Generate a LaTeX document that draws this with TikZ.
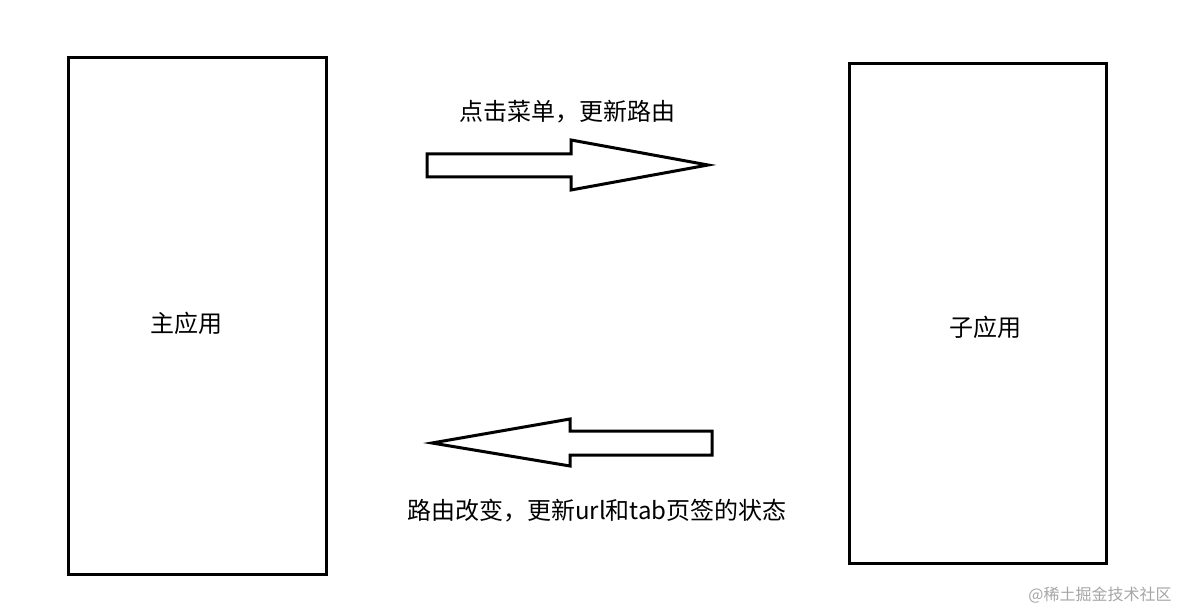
\documentclass[tikz,border=0pt]{standalone}
\usepackage{fontspec}
\setmainfont{Noto Sans CJK SC}
\begin{document}
\begin{tikzpicture}[x=1pt,y=-1pt,
  box/.style={draw,line width=3pt},
  arr/.style={draw,line width=3pt,line join=miter},
  lbl/.style={font=\fontsize{24}{28}\selectfont,inner sep=0}]
\useasboundingbox[fill=white] (0,0) rectangle (1189,612);
\node[box,minimum width=258,minimum height=516,inner sep=0] (main) at (197,316) {};
\node[lbl] (mt) at (186,323) {主应用};
\node[box,minimum width=257,minimum height=499,inner sep=0] (sub) at (977.5,313.5) {};
\node[lbl] (st) at (985,327) {子应用};
\draw[arr] (427,154) -- (571,154) -- (571,140) -- (708,165) -- (571,190) -- (571,177) -- (427,177) -- cycle;
\draw[arr] (712,431) -- (570,431) -- (570,419) -- (432,443) -- (570,466) -- (570,455) -- (712,455) -- cycle;
\node[lbl] (t1) at (567,112) {点击菜单，更新路由};
\node[lbl] (t2) at (597,511) {路由改变，更新url和tab页签的状态};
\node[font=\fontsize{16}{18}\selectfont,text=gray!70,inner sep=0] (wm) at (1100,595) {@稀土掘金技术社区};
\end{tikzpicture}
\end{document}
